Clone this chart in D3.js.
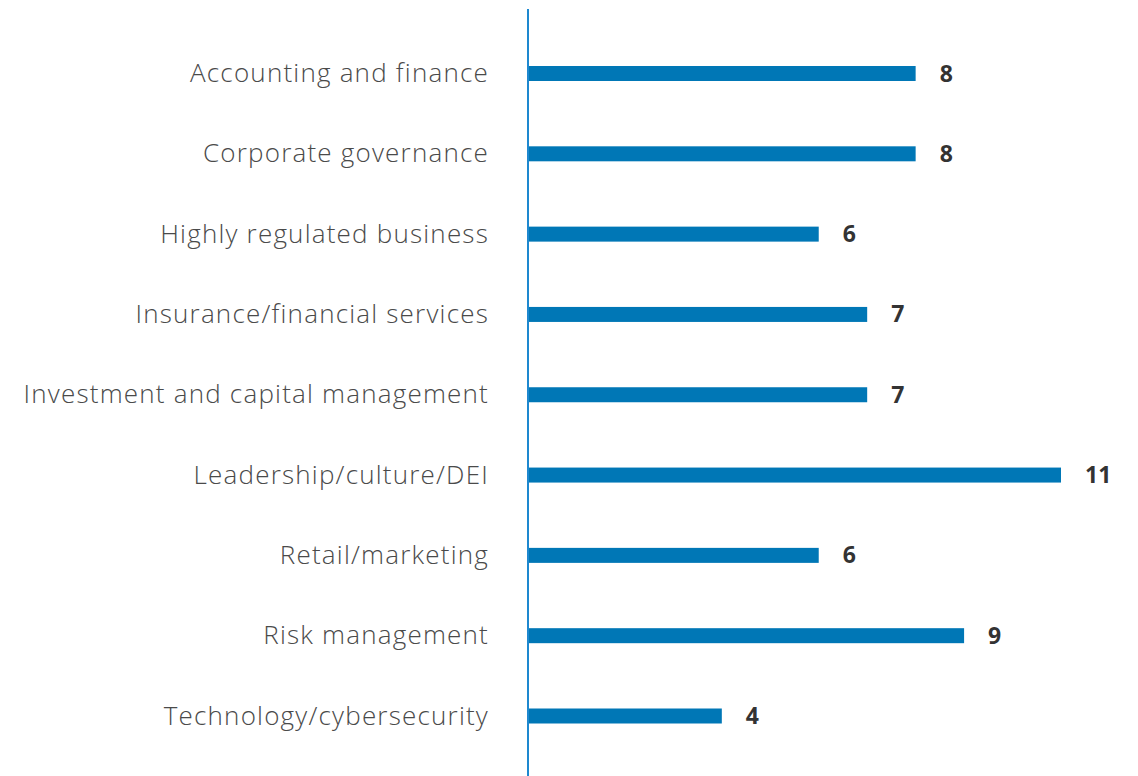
<!DOCTYPE html>
<html>
<head>
<meta charset="utf-8">
<script src="https://cdn.jsdelivr.net/npm/d3@7"></script>
<style>
  body { margin: 0; background: #fff; }
</style>
</head>
<body>
<div id="chart"></div>
<script>
var categories = [
  "Accounting and finance",
  "Corporate governance",
  "Highly regulated business",
  "Insurance/financial services",
  "Investment and capital management",
  "Leadership/culture/DEI",
  "Retail/marketing",
  "Risk management",
  "Technology/cybersecurity"
];
var counts = [8, 8, 6, 7, 7, 11, 6, 9, 4];

var width = 1138,
  height = 776;

var svg = d3.select("#chart")
  .append("svg")
  .attr("width", width)
  .attr("height", height);

var x = d3.scaleLinear().domain([0, 11]).range([528, 1061]);
var y = d3.scalePoint().domain(categories).range([73.5, 716]);

var data = categories.map(function (c, i) { return { cat: c, value: counts[i] }; });

svg.selectAll(".bar")
  .data(data)
  .enter().append("rect")
  .attr("class", "bar")
  .attr("x", x(0))
  .attr("y", function (d) { return y(d.cat) - 7.5; })
  .attr("width", function (d) { return x(d.value) - x(0); })
  .attr("height", 15)
  .attr("fill", "#0077b6");

// axis line
svg.append("line")
  .attr("x1", x(0)).attr("x2", x(0))
  .attr("y1", 9).attr("y2", height)
  .attr("stroke", "#1e88cf")
  .attr("stroke-width", 2);

svg.selectAll(".cat-label")
  .data(data)
  .enter().append("text")
  .attr("class", "cat-label")
  .attr("x", 489)
  .attr("y", function (d) { return y(d.cat); })
  .attr("dy", "0.33em")
  .attr("text-anchor", "end")
  .attr("fill", "#4a4a4a")
  .style("font-family", "'Open Sans', sans-serif")
  .style("font-weight", 300)
  .style("font-size", "26px")
  .style("letter-spacing", "1.2px")
  .text(function (d) { return d.cat; });

svg.selectAll(".val-label")
  .data(data)
  .enter().append("text")
  .attr("class", "val-label")
  .attr("x", function (d) { return x(d.value) + 24; })
  .attr("y", function (d) { return y(d.cat); })
  .attr("dy", "0.35em")
  .attr("fill", "#333")
  .style("font-family", "'Open Sans', sans-serif")
  .style("font-weight", 700)
  .style("font-size", "23px")
  .text(function (d) { return d.value; });
</script>
</body>
</html>
